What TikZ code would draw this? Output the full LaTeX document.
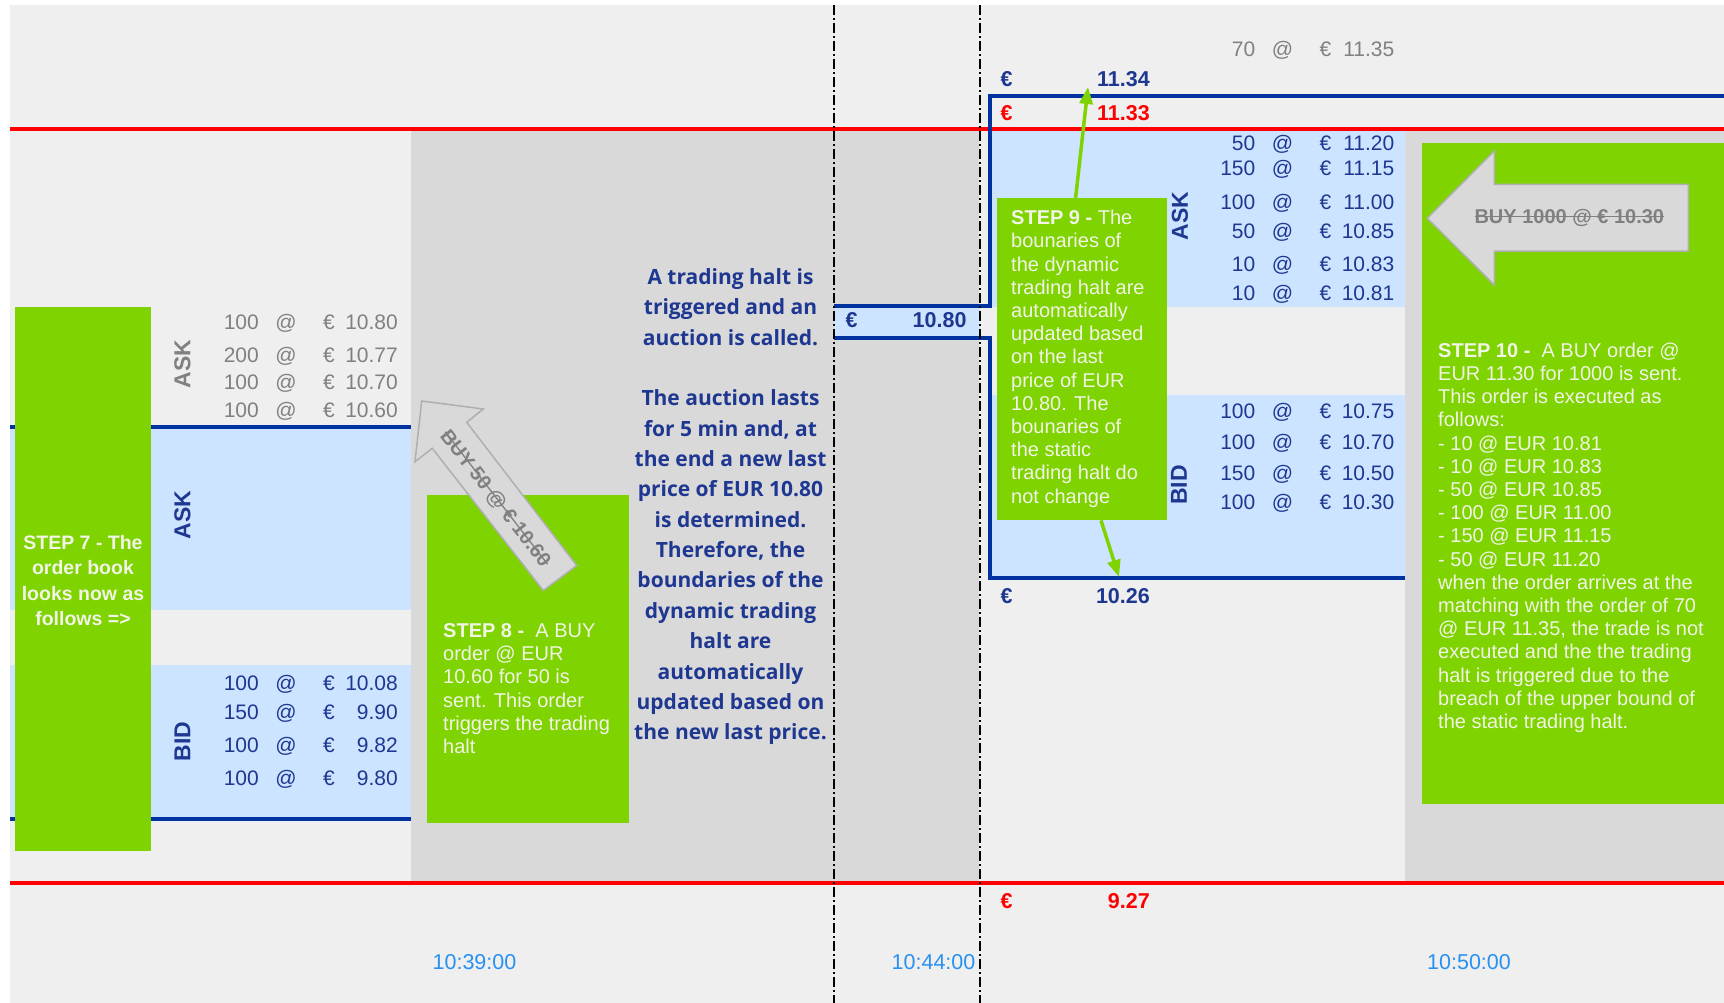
\documentclass[tikz,border=0pt]{standalone}
\usepackage{fontspec}
\setmainfont{Liberation Sans}
\newfontfamily\osans{Open Sans}
\usetikzlibrary{arrows.meta}

\definecolor{bgl}{RGB}{239,239,239}
\definecolor{bgd}{RGB}{217,217,217}
\definecolor{lblue}{RGB}{204,228,255}
\definecolor{lineblue}{RGB}{0,51,160}
\definecolor{navy}{RGB}{30,55,145}
\definecolor{gtxt}{RGB}{128,128,128}
\definecolor{boxgreen}{RGB}{126,211,0}
\definecolor{steptext}{RGB}{242,244,230}
\definecolor{timeblue}{RGB}{40,145,240}
\definecolor{arrfill}{RGB}{217,217,217}
\definecolor{arrdraw}{RGB}{175,175,175}
\definecolor{hred}{RGB}{255,0,0}

\newcommand\strk[1]{\setbox0\hbox{#1}\rlap{\rule[0.33em]{\wd0}{1.3pt}}\box0}

\newcommand\bookrow[6]{%
  \node[rowtxt,text=#6,anchor=base east] (#1q) at (#2,#3+7.5) {#4};
  \node[rowtxt,text=#6,anchor=base] (#1a) at (#2+27,#3+7.5) {@};
  \node[rowtxt,text=#6,anchor=base] (#1e) at (#2+70,#3+7.5) {€};
  \node[rowtxt,text=#6,anchor=base east] (#1p) at (#2+139,#3+7.5) {#5};}

\tikzset{
  rowtxt/.style={inner sep=0pt, font=\fontsize{21}{25}\selectfont},
  lbl/.style={inner sep=0pt, font=\bfseries\fontsize{21.5}{25}\selectfont},
  vlab/.style={inner sep=0pt, rotate=90, font=\bfseries\fontsize{23}{25}\selectfont},
  gbox/.style={fill=boxgreen, draw=none, inner sep=0pt, anchor=north west},
  steptxt/.style={inner sep=0pt, text=steptext, align=left, anchor=north west,
    font=\fontsize{20}{23.2}\selectfont},
  timetxt/.style={inner sep=0pt, text=timeblue, anchor=base, font=\fontsize{21.5}{25}\selectfont},
  buytxt/.style={inner sep=0pt, text=gtxt, font=\bfseries\fontsize{20}{24}\selectfont},
  bigarrow/.style={fill=arrfill, draw=arrdraw, line width=1.5pt, line join=miter},
  bline/.style={draw=lineblue, line width=3.8pt},
  rline/.style={draw=hred, line width=4pt},
  dashdotline/.style={draw=black, line width=1.2pt, dash pattern=on 10pt off 3pt on 2pt off 3pt},
  garrow/.style={draw=boxgreen, line width=3.5pt, -{Triangle[length=17pt,width=13pt]}}
}

\begin{document}
\begin{tikzpicture}[x=1pt,y=-1pt]
\useasboundingbox (0,0) rectangle (1724,1003);
% backgrounds
\fill[white] (0,0) rectangle (1724,1003);
\fill[bgl] (10,5) rectangle (1724,1003);
\fill[bgd] (411,129) rectangle (979,883);
\fill[bgd] (1405,129) rectangle (1724,883);
% light blue bands
\fill[lblue] (10,427) rectangle (411,610);
\fill[lblue] (10,665) rectangle (411,819);
\fill[lblue] (834,306) rectangle (980,338);
\fill[lblue] (990,129) rectangle (1405,307);
\fill[lblue] (990,395) rectangle (1405,578);
% red lines
\draw[rline] (10,129) -- (1724,129);
\draw[rline] (10,883) -- (1724,883);
% blue lines
\draw[bline] (10,426.7) -- (411,426.7);
\draw[bline] (10,819) -- (411,819);
\draw[bline,line join=miter] (834,306) -- (990,306) -- (990,95.7) -- (1724,95.7);
\draw[bline,line join=miter] (834,338) -- (990,338) -- (990,578) -- (1405,578);
% dash-dot lines
\draw[dashdotline] (834,5) -- (834,1003);
\draw[dashdotline] (980,5) -- (980,1003);
% green boxes
\node[gbox, minimum width=136pt, minimum height=544pt] (s7box) at (15,307) {};
\node[gbox, minimum width=202pt, minimum height=328pt] (s8box) at (427,495) {};
\node[gbox, minimum width=170pt, minimum height=322pt] (s9box) at (997,198) {};
\node[gbox, minimum width=302pt, minimum height=661pt] (s10box) at (1422,143) {};
% big grey arrows
\draw[bigarrow] (421.7,401) -- (483.3,409) -- (466.7,422.3) -- (576.7,565.5)
  -- (543.3,590.5) -- (432.3,448.3) -- (415,461.7) -- cycle;
\node[buytxt, rotate=-52.3] (buy50) at (495,499) {\strk{BUY 50 @ € 10.60}};
\draw[bigarrow] (1427.3,218.3) -- (1494.3,151) -- (1494.3,184.3) -- (1688.3,184.3)
  -- (1688.3,251) -- (1494.3,251) -- (1494.3,285) -- cycle;
\node[buytxt] (buy1000) at (1569.3,218.3) {\strk{BUY 1000 @ € 10.30}};
% green connectors
\coordinate (tip1134) at (1088,87);
\coordinate (tip1026) at (1119,577);
\draw[garrow] ([xshift=78.6pt]s9box.north west) -- (tip1134);
\draw[garrow] ([xshift=104pt]s9box.south west) -- (tip1026);
% left order book
\node[vlab, text=gtxt] (laskg) at (182.5,364) {ASK};
\node[vlab, text=navy] (laskb) at (182.5,515) {ASK};
\node[vlab, text=navy] (lbid) at (182.5,741.5) {BID};
\bookrow{la1}{259}{321.5}{100}{10.80}{gtxt}
\bookrow{la2}{259}{355}{200}{10.77}{gtxt}
\bookrow{la3}{259}{381.7}{100}{10.70}{gtxt}
\bookrow{la4}{259}{410}{100}{10.60}{gtxt}
\bookrow{lb1}{259}{683.3}{100}{10.08}{navy}
\bookrow{lb2}{259}{711.7}{150}{9.90}{navy}
\bookrow{lb3}{259}{745}{100}{9.82}{navy}
\bookrow{lb4}{259}{778.3}{100}{9.80}{navy}
% right order book
\bookrow{rg1}{1255.5}{49.3}{70}{11.35}{gtxt}
\bookrow{ra1}{1255.5}{142.6}{50}{11.20}{navy}
\bookrow{ra2}{1255.5}{168.3}{150}{11.15}{navy}
\bookrow{ra3}{1255.5}{201.6}{100}{11.00}{navy}
\bookrow{ra4}{1255.5}{230.5}{50}{10.85}{navy}
\bookrow{ra5}{1255.5}{263.5}{10}{10.83}{navy}
\bookrow{ra6}{1255.5}{292.6}{10}{10.81}{navy}
\bookrow{rb1}{1255.5}{411}{100}{10.75}{navy}
\bookrow{rb2}{1255.5}{441.5}{100}{10.70}{navy}
\bookrow{rb3}{1255.5}{473}{150}{10.50}{navy}
\bookrow{rb4}{1255.5}{501.5}{100}{10.30}{navy}
\node[vlab, text=navy] (rask) at (1180,216) {ASK};
\node[vlab, text=navy] (rbid) at (1179,485) {BID};
% price limits
\node[lbl, text=navy, anchor=base] (e1134) at (1006.5,87) {€};
\node[lbl, text=navy, anchor=base east] (v1134) at (1150,87) {11.34};
\node[lbl, text=hred, anchor=base] (e1133) at (1006.5,120.4) {€};
\node[lbl, text=hred, anchor=base east] (v1133) at (1150,120.4) {11.33};
\node[lbl, text=navy, anchor=base] (e1026) at (1006.5,603.7) {€};
\node[lbl, text=navy, anchor=base east] (v1026) at (1150,603.7) {10.26};
\node[lbl, text=hred, anchor=base] (e927) at (1006.5,908.2) {€};
\node[lbl, text=hred, anchor=base east] (v927) at (1150,908.2) {9.27};
\node[lbl, text=navy, anchor=base] (e1080) at (851.5,327.7) {€};
\node[lbl, text=navy, anchor=base east] (v1080) at (966.7,327.7) {10.80};
% step texts
\node[inner sep=0pt, text=steptext, align=center, anchor=north,
  font=\bfseries\fontsize{19.5}{25.5}\selectfont] (s7txt) at (83,535)
  {STEP 7 - The\\order book\\looks now as\\follows =>};
\node[steptxt] (s8txt) at (443,623.3)
  {\textbf{STEP 8 -}\ \ A BUY\\order @ EUR\\10.60 for 50 is\\sent. This order\\triggers the trading\\halt};
\node[steptxt] (s9txt) at (1011,210)
  {\textbf{STEP 9 -} The\\bounaries of\\the dynamic\\trading halt are\\automatically\\updated based\\on the last\\price of EUR\\10.80. The\\bounaries of\\the static\\trading halt do\\not change};
\node[steptxt] (s10txt) at (1438,342.7)
  {\textbf{STEP 10 -}\ \ A BUY order @\\EUR 11.30 for 1000 is sent.\\This order is executed as\\follows:\\- 10 @ EUR 10.81\\- 10 @ EUR 10.83\\- 50 @ EUR 10.85\\- 100 @ EUR 11.00\\- 150 @ EUR 11.15\\- 50 @ EUR 11.20\\when the order arrives at the\\matching with the order of 70\\@ EUR 11.35, the trade is not\\executed and the the trading\\halt is triggered due to the\\breach of the upper bound of\\the static trading halt.};
% middle explanation
\node[inner sep=0pt, text=navy, align=center, anchor=north,
  font=\osans\bfseries\fontsize{21}{30.35}\selectfont] (midtxt) at (730.5,268.3)
  {A trading halt is\\triggered and an\\auction is called.\\[30.35pt]The auction lasts\\for 5 min and, at\\the end a new last\\price of EUR 10.80\\is determined.\\Therefore, the\\boundaries of the\\dynamic trading\\halt are\\automatically\\updated based on\\the new last price.};
% time labels
\node[timetxt] (t1) at (474.5,969.2) {10:39:00};
\node[timetxt] (t2) at (933.5,969.2) {10:44:00};
\node[timetxt] (t3) at (1469,969.2) {10:50:00};
\end{tikzpicture}
\end{document}
